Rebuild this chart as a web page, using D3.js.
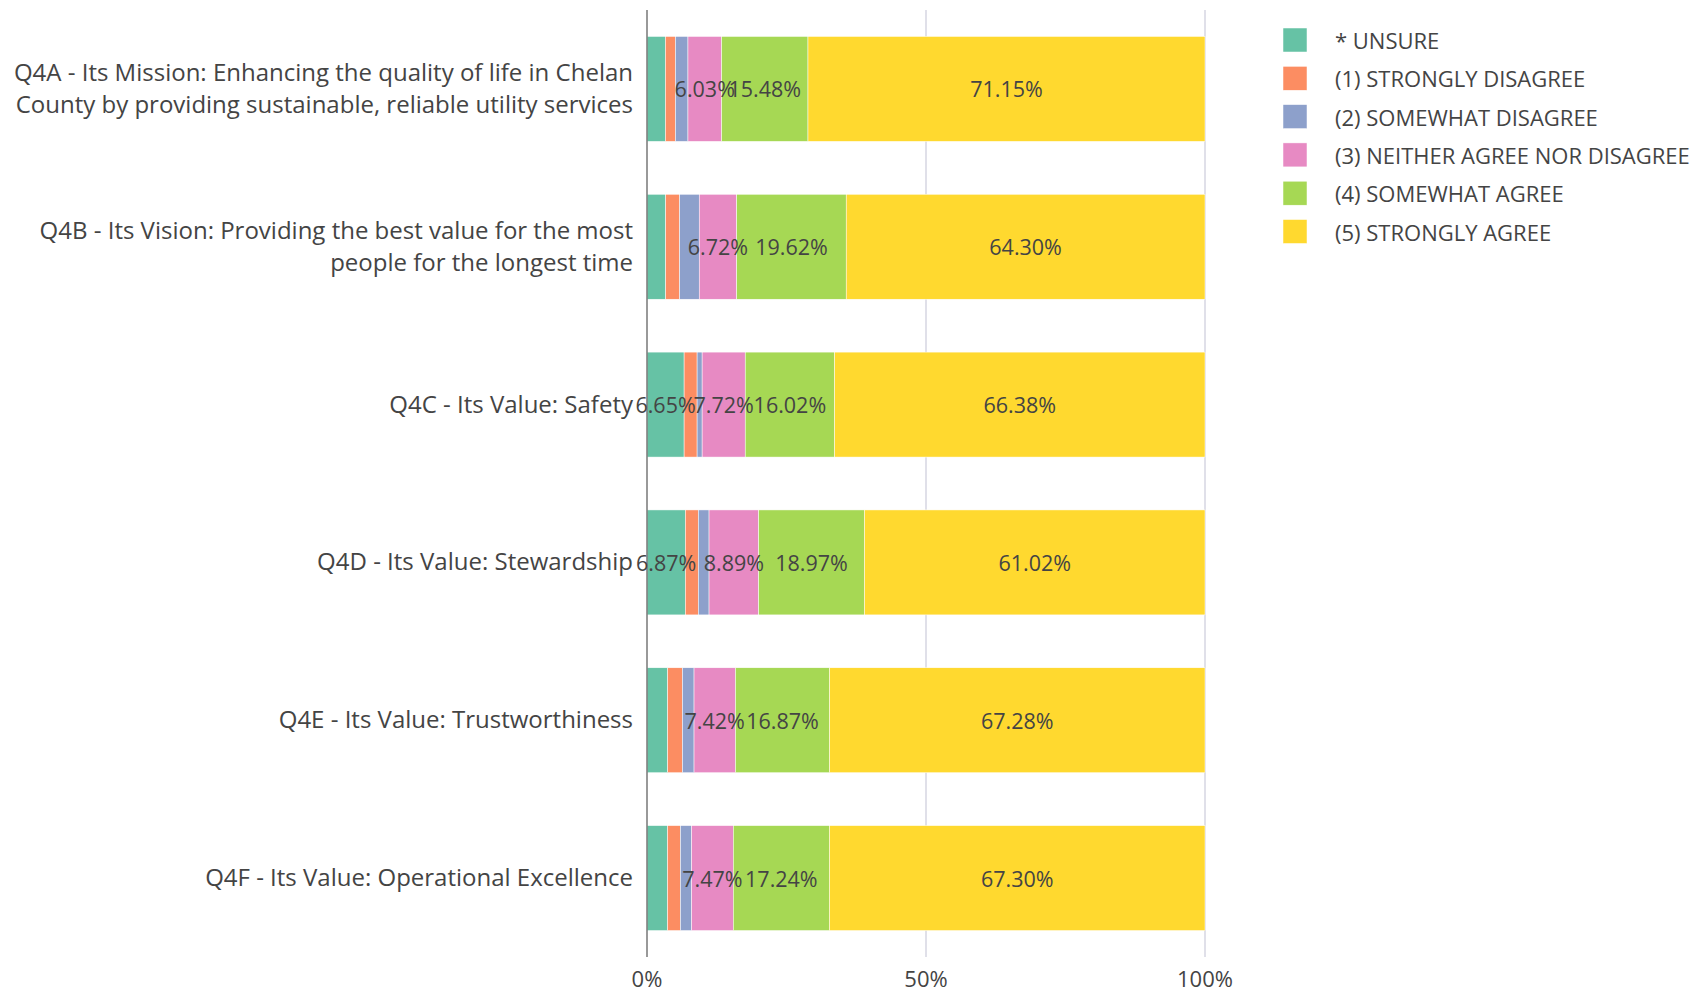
<!DOCTYPE html>
<html>
<head>
<meta charset="utf-8">
<script src="https://cdn.jsdelivr.net/npm/d3@7"></script>
<style>
	body { margin: 0; background: #fff; }
	svg { display: block; font-family: "Open Sans", sans-serif; }
	.cat-label, .seg-label, .tick-label, .legend-label { fill: #444; }
</style>
</head>
<body>
<svg id="chart" width="1696" height="992"></svg>
<script>

const CATEGORIES = [
	'Q4A - Its Mission: Enhancing the quality of life in Chelan\nCounty by providing sustainable, reliable utility services',
	'Q4B - Its Vision: Providing the best value for the most\npeople for the longest time',
	'Q4C - Its Value: Safety',
	'Q4D - Its Value: Stewardship',
	'Q4E - Its Value: Trustworthiness',
	'Q4F - Its Value: Operational Excellence'
];

const SERIES = ['* UNSURE', '(1) STRONGLY DISAGREE', '(2) SOMEWHAT DISAGREE',
	'(3) NEITHER AGREE NOR DISAGREE', '(4) SOMEWHAT AGREE', '(5) STRONGLY AGREE'];

const COLORS = ['#66c2a5', '#fc8d62', '#8da0cb', '#e78ac3', '#a6d854', '#ffd92f'];

// percentages per category, one array per series
const UNSURE            = [3.30, 3.35, 6.65, 6.87, 3.72, 3.69];
const STRONGLY_DISAGREE = [1.80, 2.50, 2.33, 2.33, 2.63, 2.30];
const SOMEWHAT_DISAGREE = [2.24, 3.51, 0.90, 1.92, 2.08, 2.00];
const NEITHER           = [6.03, 6.72, 7.72, 8.89, 7.42, 7.47];
const SOMEWHAT_AGREE    = [15.48, 19.62, 16.02, 18.97, 16.87, 17.24];
const STRONGLY_AGREE    = [71.15, 64.30, 66.38, 61.02, 67.28, 67.30];

const X_TICKS = [0, 50, 100];

const series_values = [UNSURE, STRONGLY_DISAGREE, SOMEWHAT_DISAGREE, NEITHER, SOMEWHAT_AGREE, STRONGLY_AGREE];

const svg = d3.select('#chart');

const x = d3.scaleLinear().domain([0, 100]).range([647, 1205]);
const y = d3.scaleBand().domain(d3.range(CATEGORIES.length)).range([10, 957]).paddingInner(0.335).paddingOuter(0.1675);

// gridlines
svg.append('g')
	.selectAll('line')
	.data(X_TICKS.slice(1))
	.enter()
	.append('line')
		.attr('x1', d => x(d)).attr('x2', d => x(d))
		.attr('y1', 10).attr('y2', 957)
		.attr('stroke', '#d6d6e2')
		.attr('stroke-width', 1.5);

// stack rows
const rows = CATEGORIES.map((c, i) => {
	let row = {};
	SERIES.forEach((s, j) => row[s] = series_values[j][i]);
	return row;
});
const stacked = d3.stack().keys(SERIES)(rows);

const layers = svg.append('g')
	.selectAll('g')
	.data(stacked)
	.enter()
	.append('g')
		.attr('fill', (d, i) => COLORS[i]);

layers.selectAll('rect')
	.data(d => d.map((v, i) => ({ v: v, i: i })))
	.enter()
	.append('rect')
		.attr('x', d => x(d.v[0]))
		.attr('width', d => x(d.v[1]) - x(d.v[0]))
		.attr('y', d => y(d.i))
		.attr('height', y.bandwidth())
		.attr('stroke', '#fff')
		.attr('stroke-width', 0.5);

// zero axis line
svg.append('line')
	.attr('x1', x(0)).attr('x2', x(0))
	.attr('y1', 10).attr('y2', 957)
	.attr('stroke', '#777')
	.attr('stroke-width', 1.5);

// value labels for the larger segments, on top of every bar
const seg_labels = [];
stacked.forEach(layer => layer.forEach((v, i) => {
	if (v[1] - v[0] >= 5) seg_labels.push({ v: v, i: i });
}));

svg.append('g')
	.selectAll('text')
	.data(seg_labels)
	.enter()
	.append('text')
		.classed('seg-label', true)
		.attr('x', d => x((d.v[0] + d.v[1]) / 2))
		.attr('y', d => y(d.i) + y.bandwidth() / 2)
		.attr('text-anchor', 'middle')
		.attr('dominant-baseline', 'central')
		.attr('font-size', 21.5)
		.text(d => (d.v[1] - d.v[0]).toFixed(2) + '%');

// category labels
const cat = svg.append('g')
	.selectAll('text')
	.data(CATEGORIES)
	.enter()
	.append('text')
		.classed('cat-label', true)
		.attr('text-anchor', 'end')
		.attr('font-size', 24)
		.attr('y', (d, i) => y(i) + y.bandwidth() / 2);

cat.each(function(d) {
	const lines = d.split('\n');
	const lh = 31.5;
	lines.forEach((line, k) => {
		d3.select(this).append('tspan')
			.attr('x', 633)
			.attr('dy', k === 0 ? (-(lines.length - 1) * lh / 2 + 8) : lh)
			.text(line);
	});
});

// x tick labels
svg.append('g')
	.selectAll('text')
	.data(X_TICKS)
	.enter()
	.append('text')
		.classed('tick-label', true)
		.attr('x', d => x(d))
		.attr('y', 987)
		.attr('text-anchor', 'middle')
		.attr('font-size', 22)
		.text(d => d + '%');

// legend
const legend = svg.append('g')
	.selectAll('g')
	.data(SERIES)
	.enter()
	.append('g')
		.attr('transform', (d, i) => `translate(1283, ${28 + i * 38.3})`);

legend.append('rect')
	.attr('width', 24)
	.attr('height', 24)
	.attr('fill', (d, i) => COLORS[i])
	.attr('stroke', '#fff')
	.attr('stroke-width', 0.5);

legend.append('text')
	.classed('legend-label', true)
	.attr('x', 52)
	.attr('y', 12)
	.attr('dominant-baseline', 'central')
	.attr('font-size', 22)
	.text(d => d);

</script>
</body>
</html>
